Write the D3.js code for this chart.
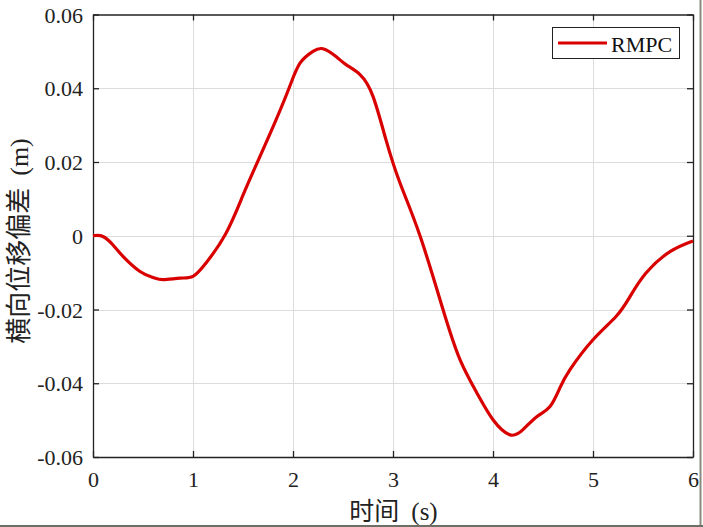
<!DOCTYPE html>
<html><head><meta charset="utf-8">
<script src="https://cdn.jsdelivr.net/npm/d3@7"></script>
<style>body{margin:0;background:#fff}svg{display:block}</style>
</head><body>
<script>
const times = [0,0.1,0.2,0.3,0.47,0.6,0.7,0.87,1.0,1.13,1.33,1.5,1.64,1.8,1.96,2.07,2.2,2.3,2.43,2.53,2.67,2.8,2.93,3.07,3.27,3.5,3.67,3.84,4.0,4.17,4.3,4.44,4.57,4.67,4.77,5.0,5.23,5.37,5.53,5.77,6.0];
const rmpc = [0,-0.0002,-0.0025,-0.0056,-0.0097,-0.0113,-0.0119,-0.0115,-0.011,-0.0074,0.0007,0.011,0.0197,0.0295,0.04,0.0468,0.05,0.0507,0.0486,0.0464,0.0437,0.0378,0.026,0.0143,0,-0.02,-0.0336,-0.0427,-0.0499,-0.054,-0.0526,-0.049,-0.0463,-0.0412,-0.0363,-0.0282,-0.0219,-0.0165,-0.0101,-0.0043,-0.0014];
const xTicks = [0,1,2,3,4,5,6];
const yTicks = [-0.06,-0.04,-0.02,0,0.02,0.04,0.06];
const yTickLabels = ["-0.06","-0.04","-0.02","0","0.02","0.04","0.06"];
const seriesName = "RMPC";
const xLabel = "时间";
const xUnit = "(s)";
const yLabel = "横向位移偏差";
const yUnit = "(m)";

const W = 703, H = 527;
const m = {l:93, r:693, t:14.5, b:457};
const svg = d3.select("body").append("svg").attr("width",W).attr("height",H);
const x = d3.scaleLinear().domain([0,6]).range([m.l,m.r]);
const y = d3.scaleLinear().domain([-0.06,0.06]).range([m.b,m.t]);
const numFont = "'Liberation Serif','Times New Roman',serif";
const cjkFont = "'Liberation Serif','Noto Sans CJK SC',serif";

// grid
const g = svg.append("g");
g.selectAll(".gx").data(xTicks.slice(1,-1)).enter().append("line")
 .attr("x1",d=>Math.round(x(d))+0.5).attr("x2",d=>Math.round(x(d))+0.5).attr("y1",m.t).attr("y2",m.b)
 .attr("stroke","#dcdcdc").attr("stroke-width",1);
g.selectAll(".gy").data(yTicks.slice(1,-1)).enter().append("line")
 .attr("y1",d=>Math.round(y(d))+0.5).attr("y2",d=>Math.round(y(d))+0.5).attr("x1",m.l).attr("x2",m.r)
 .attr("stroke","#dcdcdc").attr("stroke-width",1);

// axes with inward ticks
const tl = 6;
const axB = svg.append("g").attr("transform",`translate(0,${m.b})`).call(d3.axisBottom(x).tickValues(xTicks).tickSizeInner(-tl).tickSizeOuter(0).tickPadding(14).tickFormat(d3.format("d")));
const axT = svg.append("g").attr("transform",`translate(0,${m.t})`).call(d3.axisTop(x).tickValues(xTicks).tickSizeInner(-tl).tickSizeOuter(0).tickFormat(""));
const axL = svg.append("g").attr("transform",`translate(${m.l},0)`).call(d3.axisLeft(y).tickValues(yTicks).tickSizeInner(-tl).tickSizeOuter(0).tickPadding(10).tickFormat((d,i)=>yTickLabels[i]));
const axR = svg.append("g").attr("transform",`translate(${m.r},0)`).call(d3.axisRight(y).tickValues(yTicks).tickSizeInner(-tl).tickSizeOuter(0).tickFormat(""));
[axB,axT,axL,axR].forEach(a=>{
  a.attr("font-family",numFont).attr("font-size",22);
  a.selectAll("path").attr("stroke","#222").attr("stroke-width",1.3);
  a.selectAll("line").attr("stroke","#222").attr("stroke-width",1.3);
  a.selectAll("text").attr("font-family",numFont).attr("font-size",22).attr("fill","#222");
});
axL.selectAll("text").attr("dy","0.35em");

// line
svg.append("path").datum(times.map((t,i)=>[t,rmpc[i]]))
 .attr("fill","none").attr("stroke","#d90000").attr("stroke-width",3.2).attr("stroke-linejoin","round")
 .attr("d",d3.line().x(d=>x(d[0])).y(d=>y(d[1])).curve(d3.curveNatural));

// legend
const lg = svg.append("g");
lg.append("rect").attr("x",552.5).attr("y",27.5).attr("width",127).attr("height",31).attr("fill","#fff").attr("stroke","#222").attr("stroke-width",1);
lg.append("line").attr("x1",558).attr("x2",607).attr("y1",43).attr("y2",43).attr("stroke","#d90000").attr("stroke-width",3.2);
lg.append("text").attr("x",611).attr("y",52).attr("font-family",numFont).attr("font-size",22).attr("fill","#111").text(seriesName);

// axis labels
const xt = svg.append("text").attr("x",393.5).attr("y",520).attr("text-anchor","middle").attr("font-family",cjkFont).attr("font-size",25).attr("fill","#222");
xt.append("tspan").text(xLabel);
xt.append("tspan").attr("dx",12).text(xUnit);
const yt = svg.append("text").attr("transform","translate(28,241) rotate(-90)").attr("text-anchor","middle").attr("font-family",cjkFont).attr("font-size",26).attr("fill","#222");
yt.append("tspan").text(yLabel);
yt.append("tspan").attr("dx",12).text(yUnit);

// window frame
svg.append("line").attr("x1",700.5).attr("x2",700.5).attr("y1",0).attr("y2",H).attr("stroke","#8a8a80").attr("stroke-width",2);
svg.append("line").attr("x1",0).attr("x2",W).attr("y1",526).attr("y2",526).attr("stroke","#6e6e64").attr("stroke-width",2);
</script>
</body></html>
